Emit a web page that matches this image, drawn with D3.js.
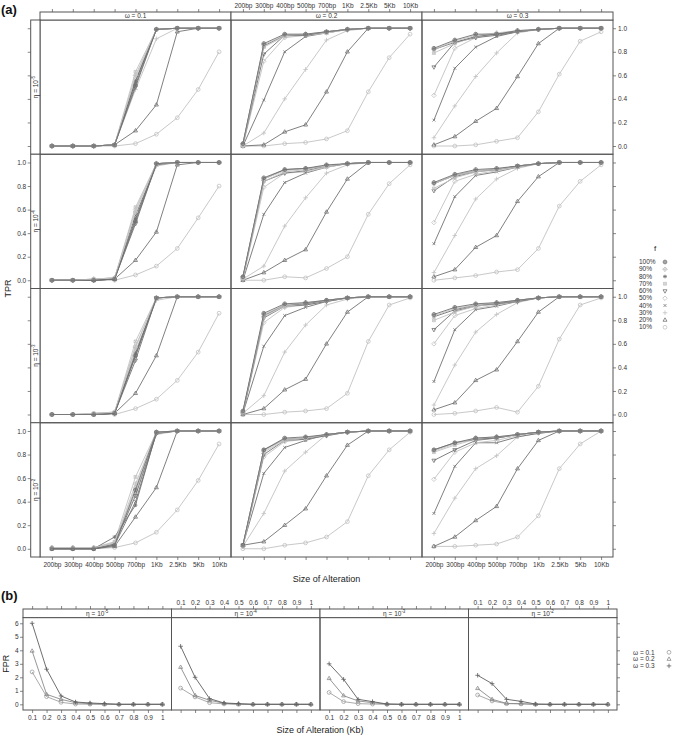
<!DOCTYPE html>
<html><head><meta charset="utf-8">
<script src="https://cdn.jsdelivr.net/npm/d3@7"></script>
<style>body{margin:0;background:#fff} svg{display:block;font-family:"Liberation Sans",Arial,Helvetica,sans-serif}</style>
</head><body><svg id="c" width="673" height="736"></svg>
<script>
// ---------------- DATA ----------------
const sizes = ["200bp","300bp","400bp","500bp","700bp","1Kb","2.5Kb","5Kb","10Kb"];
const fLevels = ["100%","90%","80%","70%","60%","50%","40%","30%","20%","10%"];
const omegaLevels = ["0.1","0.2","0.3"];
const etaExponentsA = ["-5","-4","-3","-2"];
const etaExponentsB = ["-5","-4","-3","-2"];
const tprTicks = [0,0.2,0.4,0.6,0.8,1.0];
const fprTicks = [0,1,2,3,4,5,6];
const kbSizes = [0.1,0.2,0.3,0.4,0.5,0.6,0.7,0.8,0.9,1];

// TPR, one array per panel; rows = f levels 100%..10%, columns = sizes
const tpr_e5_w1 = [
 [0,0,0,0.01,0.52,0.99,1,1,1],[0,0,0,0.01,0.60,0.99,1,1,1],[0,0,0,0.01,0.55,0.99,1,1,1],
 [0,0,0,0.01,0.63,0.99,1,1,1],[0,0,0,0.01,0.50,0.99,1,1,1],[0,0,0,0.01,0.58,0.99,1,1,1],
 [0,0,0,0.01,0.55,0.99,1,1,1],[0,0,0,0.01,0.48,0.91,1,1,1],[0,0,0,0.01,0.13,0.35,0.97,1,1],
 [0,0,0,0,0.02,0.10,0.24,0.48,0.80]];
const tpr_e5_w2 = [
 [0.02,0.87,0.95,0.95,0.97,0.99,1,1,1],[0.01,0.86,0.94,0.95,0.97,0.99,1,1,1],[0.02,0.85,0.94,0.94,0.97,0.99,1,1,1],
 [0.01,0.84,0.93,0.94,0.96,0.99,1,1,1],[0.01,0.78,0.94,0.94,0.97,0.99,1,1,1],[0,0.72,0.92,0.94,0.96,0.99,1,1,1],
 [0,0.39,0.80,0.93,0.96,0.99,1,1,1],[0,0.11,0.40,0.65,0.90,0.98,1,1,1],[0,0.01,0.12,0.18,0.46,0.80,1,1,1],
 [0,0,0.02,0.03,0.06,0.13,0.46,0.75,0.95]];
const tpr_e5_w3 = [
 [0.83,0.90,0.95,0.95,0.98,0.99,1,1,1],[0.82,0.89,0.94,0.96,0.98,0.99,1,1,1],[0.82,0.88,0.93,0.95,0.97,0.99,1,1,1],
 [0.79,0.87,0.93,0.95,0.97,0.99,1,1,1],[0.67,0.88,0.92,0.94,0.97,0.99,1,1,1],[0.43,0.83,0.92,0.95,0.97,0.99,1,1,1],
 [0.22,0.66,0.84,0.93,0.97,0.99,1,1,1],[0.07,0.34,0.59,0.79,0.96,0.99,1,1,1],[0.01,0.08,0.21,0.32,0.59,0.87,1,1,1],
 [0,0,0.01,0.04,0.07,0.29,0.61,0.89,0.97]];
const tpr_e4_w1 = [
 [0,0,0,0.01,0.50,0.99,1,1,1],[0,0,0.01,0.02,0.58,0.99,1,1,1],[0,0,0,0.01,0.52,0.99,1,1,1],
 [0,0,0.01,0.02,0.62,0.99,1,1,1],[0,0,0,0.01,0.48,0.99,1,1,1],[0,0,0.01,0.02,0.60,0.99,1,1,1],
 [0,0,0,0.01,0.55,0.98,1,1,1],[0,0,0.01,0.02,0.52,0.97,1,1,1],[0,0,0,0.01,0.17,0.41,0.98,1,1],
 [0,0,0,0,0.045,0.12,0.27,0.53,0.80]];
const tpr_e4_w2 = [
 [0.03,0.87,0.94,0.95,0.98,0.99,1,1,1],[0.02,0.86,0.93,0.95,0.97,0.99,1,1,1],[0.03,0.86,0.94,0.95,0.97,0.99,1,1,1],
 [0.02,0.84,0.92,0.94,0.97,0.99,1,1,1],[0.02,0.84,0.91,0.93,0.97,0.99,1,1,1],[0.01,0.79,0.91,0.92,0.96,0.99,1,1,1],
 [0,0.56,0.83,0.91,0.96,0.99,1,1,1],[0.01,0.12,0.46,0.70,0.91,0.98,1,1,1],[0,0.065,0.17,0.26,0.58,0.86,1,1,1],
 [0,0,0.03,0.02,0.10,0.20,0.56,0.82,0.98]];
const tpr_e4_w3 = [
 [0.83,0.90,0.94,0.95,0.97,0.99,1,1,1],[0.82,0.89,0.93,0.94,0.97,0.99,1,1,1],[0.82,0.89,0.93,0.94,0.97,0.99,1,1,1],
 [0.78,0.87,0.92,0.94,0.97,0.99,1,1,1],[0.76,0.88,0.92,0.94,0.97,0.99,1,1,1],[0.49,0.84,0.90,0.93,0.96,0.99,1,1,1],
 [0.31,0.71,0.89,0.92,0.96,0.99,1,1,1],[0.065,0.38,0.69,0.86,0.95,0.99,1,1,1],[0.03,0.09,0.28,0.38,0.67,0.88,1,1,1],
 [0,0.02,0.04,0.07,0.09,0.27,0.63,0.84,0.98]];
const tpr_e3_w1 = [
 [0,0,0,0.01,0.50,0.99,1,1,1],[0,0,0,0.02,0.57,0.99,1,1,1],[0,0,0,0.01,0.52,0.99,1,1,1],
 [0,0,0.01,0.02,0.62,0.99,1,1,1],[0,0,0,0.01,0.46,0.99,1,1,1],[0,0,0.01,0.02,0.58,0.99,1,1,1],
 [0,0,0,0.01,0.50,0.99,1,1,1],[0,0,0.01,0.02,0.54,0.97,1,1,1],[0,0,0,0.01,0.18,0.50,1,1,1],
 [0,0,0,0,0.05,0.13,0.29,0.53,0.86]];
const tpr_e3_w2 = [
 [0.03,0.86,0.94,0.95,0.97,0.99,1,1,1],[0.02,0.85,0.93,0.95,0.97,0.99,1,1,1],[0.02,0.84,0.93,0.94,0.97,0.99,1,1,1],
 [0.02,0.83,0.92,0.94,0.97,0.99,1,1,1],[0.01,0.82,0.92,0.93,0.96,0.99,1,1,1],[0.01,0.78,0.91,0.93,0.96,0.99,1,1,1],
 [0.01,0.58,0.84,0.91,0.96,0.99,1,1,1],[0.01,0.16,0.53,0.76,0.93,0.98,1,1,1],[0,0.05,0.21,0.30,0.60,0.87,1,1,1],
 [0,0,0.02,0.03,0.05,0.18,0.62,0.93,0.99]];
const tpr_e3_w3 = [
 [0.85,0.91,0.94,0.95,0.97,0.99,1,1,1],[0.84,0.90,0.93,0.95,0.97,0.99,1,1,1],[0.83,0.89,0.93,0.94,0.97,0.99,1,1,1],
 [0.80,0.87,0.92,0.94,0.97,0.99,1,1,1],[0.72,0.88,0.92,0.94,0.96,0.99,1,1,1],[0.60,0.84,0.90,0.93,0.96,0.99,1,1,1],
 [0.28,0.72,0.89,0.92,0.96,0.99,1,1,1],[0.08,0.42,0.70,0.85,0.95,0.99,1,1,1],[0.04,0.10,0.29,0.38,0.62,0.87,1,1,1],
 [0,0.01,0.03,0.06,0.02,0.24,0.64,0.93,0.99]];
const tpr_e2_w1 = [
 [0,0,0,0.03,0.50,0.99,1,1,1],[0.01,0.01,0.01,0.05,0.55,0.99,1,1,1],[0,0,0,0.10,0.37,0.99,1,1,1],
 [0.01,0.01,0.01,0.06,0.61,0.99,1,1,1],[0,0,0,0.04,0.45,0.98,1,1,1],[0.01,0.01,0.01,0.05,0.52,0.99,1,1,1],
 [0,0,0,0.03,0.40,0.98,1,1,1],[0.01,0.01,0.01,0.04,0.48,0.97,1,1,1],[0,0,0,0.02,0.27,0.52,1,1,1],
 [0,0,0,0.01,0.05,0.14,0.33,0.58,0.89]];
const tpr_e2_w2 = [
 [0.03,0.84,0.94,0.95,0.97,0.99,1,1,1],[0.02,0.83,0.93,0.94,0.97,0.99,1,1,1],[0.03,0.84,0.93,0.94,0.97,0.99,1,1,1],
 [0.02,0.82,0.92,0.94,0.97,0.99,1,1,1],[0.03,0.80,0.92,0.93,0.96,0.99,1,1,1],[0.02,0.78,0.91,0.93,0.96,0.99,1,1,1],
 [0.03,0.64,0.86,0.92,0.97,0.99,1,1,1],[0.02,0.30,0.66,0.82,0.97,0.99,1,1,1],[0.03,0.06,0.20,0.34,0.62,0.88,1,1,1],
 [0,0,0.03,0.05,0.10,0.23,0.62,0.84,0.99]];
const tpr_e2_w3 = [
 [0.84,0.90,0.94,0.95,0.97,0.99,1,1,1],[0.83,0.89,0.94,0.95,0.97,0.99,1,1,1],[0.84,0.90,0.93,0.94,0.97,0.99,1,1,1],
 [0.82,0.88,0.93,0.94,0.97,0.99,1,1,1],[0.75,0.84,0.92,0.94,0.97,0.99,1,1,1],[0.59,0.82,0.90,0.92,0.96,0.99,1,1,1],
 [0.30,0.70,0.90,0.90,0.95,0.98,1,1,1],[0.13,0.43,0.68,0.79,0.95,0.98,1,1,1],[0.02,0.10,0.24,0.36,0.68,0.92,1,1,1],
 [0.02,0.02,0.03,0.04,0.10,0.28,0.68,0.89,1.0]];

// FPR: per eta panel, rows = omega 0.1, 0.2, 0.3
const fpr_col1 = [
 [2.4,0.57,0.15,0.02,0.01,0,0,0,0,0],
 [3.95,0.74,0.37,0.12,0.05,0.02,0,0,0,0],
 [6.0,2.6,0.62,0.17,0.10,0.05,0,0,0,0]];
const fpr_col2 = [
 [1.2,0.55,0.12,0.03,0,0,0,0,0,0],
 [2.75,0.66,0.30,0.08,0.02,0,0,0,0,0],
 [4.3,2.0,0.42,0.10,0.05,0,0,0,0,0]];
const fpr_col3 = [
 [0.88,0.20,0.05,0.02,0,0,0,0,0,0],
 [1.92,0.64,0.25,0.12,0.02,0,0,0,0,0],
 [3.0,1.85,0.37,0.20,0.02,0,0,0,0,0]];
const fpr_col4 = [
 [0.69,0.25,0.05,0.03,0,0,0,0,0,0],
 [1.18,0.37,0.07,0.05,0,0,0,0,0,0],
 [2.15,1.53,0.37,0.22,0.02,0,0,0,0,0]];

const tprPanels = [[tpr_e5_w1,tpr_e5_w2,tpr_e5_w3],[tpr_e4_w1,tpr_e4_w2,tpr_e4_w3],
                   [tpr_e3_w1,tpr_e3_w2,tpr_e3_w3],[tpr_e2_w1,tpr_e2_w2,tpr_e2_w3]];
const fprPanels = [fpr_col1,fpr_col2,fpr_col3,fpr_col4];

// ---------------- STYLE ----------------
const fPch = [10,9,8,7,6,5,4,3,2,1];
const dark = "#727272", light = "#c2c2c2";
const fColor = fLevels.map((d,i)=> i%2===0 ? dark : light);
const wPch = [1,2,3];
const wColor = ["#a0a0a0","#8a8a8a","#5f5f5f"];
const frame = "#555";
const txt = "#333";
const tickFont = 6.5;

const svg = d3.select("#c");

function symbol(g, pch, cx, cy, color, r) {
  const s = g.append("g").attr("fill","none").attr("stroke",color).attr("stroke-width",0.8);
  const P = (d)=> s.append("path").attr("d",d);
  const k = r*0.75;
  switch(pch){
    case 1: s.append("circle").attr("cx",cx).attr("cy",cy).attr("r",r); break;
    case 2: P(`M${cx},${cy-r*1.15}L${cx+r*1.05},${cy+r*0.65}L${cx-r*1.05},${cy+r*0.65}Z`); break;
    case 3: P(`M${cx-r*1.2},${cy}H${cx+r*1.2}M${cx},${cy-r*1.2}V${cy+r*1.2}`); break;
    case 4: P(`M${cx-k},${cy-k}L${cx+k},${cy+k}M${cx-k},${cy+k}L${cx+k},${cy-k}`); break;
    case 5: P(`M${cx},${cy-r*1.2}L${cx+r*1.2},${cy}L${cx},${cy+r*1.2}L${cx-r*1.2},${cy}Z`); break;
    case 6: P(`M${cx},${cy+r*1.15}L${cx+r*1.05},${cy-r*0.65}L${cx-r*1.05},${cy-r*0.65}Z`); break;
    case 7: P(`M${cx-k},${cy-k}h${2*k}v${2*k}h${-2*k}ZM${cx-k},${cy-k}L${cx+k},${cy+k}M${cx-k},${cy+k}L${cx+k},${cy-k}`); break;
    case 8: P(`M${cx-r},${cy}H${cx+r}M${cx},${cy-r}V${cy+r}M${cx-k},${cy-k}L${cx+k},${cy+k}M${cx-k},${cy+k}L${cx+k},${cy-k}`); break;
    case 9: P(`M${cx},${cy-r*1.2}L${cx+r*1.2},${cy}L${cx},${cy+r*1.2}L${cx-r*1.2},${cy}ZM${cx-r*1.2},${cy}H${cx+r*1.2}M${cx},${cy-r*1.2}V${cy+r*1.2}`); break;
    case 10: s.append("circle").attr("cx",cx).attr("cy",cy).attr("r",r);
             P(`M${cx-r},${cy}H${cx+r}M${cx},${cy-r}V${cy+r}`); break;
  }
}

function styleAxis(sel){
  sel.select(".domain").remove();
  sel.selectAll(".tick line").attr("stroke",frame).attr("stroke-width",0.7);
  sel.selectAll(".tick text").attr("fill",txt).style("font-size",tickFont+"px").style("font-family","Liberation Sans, Arial, sans-serif");
}

function etaLabel(sel, exp){
  sel.append("tspan").text("\u03B7 = 10");
  sel.append("tspan").attr("dy",-2.3).style("font-size","4.5px").text(exp);
}

// ---------------- PANEL (a) ----------------
const A = {left:40, colW:191, top:20, rowH:134.25, stripH:8, leftStripW:9.3};
const nRow = 4, nCol = 3;
const aBottom = A.top + nRow*A.rowH;
const aRight = A.left + nCol*A.colW;

for (let r=0;r<nRow;r++){
  for (let c=0;c<nCol;c++){
    const x0 = A.left + c*A.colW, y0 = A.top + r*A.rowH;
    const x = d3.scaleLinear().domain([0.43,9.57]).range([x0,x0+A.colW]);
    const y = d3.scaleLinear().domain([-0.07,1.07]).range([y0+A.rowH,y0]);
    const g = svg.append("g");
    const data = tprPanels[r][c];
    const line = d3.line().x((d,i)=>x(i+1)).y(d=>y(d));
    for (let s=data.length-1;s>=0;s--){
      g.append("path").attr("d",line(data[s])).attr("fill","none")
        .attr("stroke",fColor[s]).attr("stroke-width",0.9);
      data[s].forEach((v,i)=> symbol(g,fPch[s],x(i+1),y(v),fColor[s],1.9));
    }
    g.append("rect").attr("x",x0).attr("y",y0).attr("width",A.colW).attr("height",A.rowH)
      .attr("fill","none").attr("stroke",frame).attr("stroke-width",1);

    // top strips and axes
    if (r===0){
      svg.append("rect").attr("x",x0).attr("y",A.top-A.stripH).attr("width",A.colW).attr("height",A.stripH)
        .attr("fill","#fff").attr("stroke",frame).attr("stroke-width",1);
      svg.append("text").attr("x",x0+A.colW/2).attr("y",A.top-A.stripH/2+2.2).attr("text-anchor","middle")
        .style("font-size","6.5px").attr("fill",txt).text("\u03C9 = "+omegaLevels[c]);
      const ax = svg.append("g").attr("transform",`translate(0,${A.top-A.stripH})`)
        .call(d3.axisTop(x).tickValues(d3.range(1,10)).tickSize(3).tickPadding(1.5)
          .tickFormat(c===1 ? (d=>sizes[d-1]) : ()=>""));
      styleAxis(ax);
    }
    if (r===nRow-1){
      const ax = svg.append("g").attr("transform",`translate(0,${aBottom})`)
        .call(d3.axisBottom(x).tickValues(d3.range(1,10)).tickSize(3).tickPadding(2)
          .tickFormat(c!==1 ? (d=>sizes[d-1]) : ()=>""));
      styleAxis(ax);
    }
    if (c===0){
      const sx = A.left - A.leftStripW;
      svg.append("rect").attr("x",sx).attr("y",y0).attr("width",A.leftStripW).attr("height",A.rowH)
        .attr("fill","#fff").attr("stroke",frame).attr("stroke-width",1);
      const t = svg.append("text").attr("transform",`translate(${sx+A.leftStripW/2+2.3},${y0+A.rowH/2}) rotate(-90)`)
        .attr("text-anchor","middle").style("font-size","6.5px").attr("fill",txt);
      etaLabel(t, etaExponentsA[r]);
      const ax = svg.append("g").attr("transform",`translate(${sx},0)`)
        .call(d3.axisLeft(y).tickValues(tprTicks).tickSize(3).tickPadding(1.5)
          .tickFormat(r%2===1 ? d3.format(".1f") : ()=>""));
      styleAxis(ax);
    }
    if (c===nCol-1){
      const ax = svg.append("g").attr("transform",`translate(${aRight},0)`)
        .call(d3.axisRight(y).tickValues(tprTicks).tickSize(3).tickPadding(2)
          .tickFormat(r%2===0 ? d3.format(".1f") : ()=>""));
      styleAxis(ax);
    }
  }
}

svg.append("text").attr("x",1).attr("y",14).style("font-size","13px").style("font-weight","bold").attr("fill","#111").text("(a)");
svg.append("text").attr("transform",`translate(11,${(A.top+aBottom)/2}) rotate(-90)`).attr("text-anchor","middle")
  .style("font-size","9px").attr("fill","#222").text("TPR");
svg.append("text").attr("x",(A.left+aRight)/2).attr("y",581.5).attr("text-anchor","middle")
  .style("font-size","9px").attr("fill","#222").text("Size of Alteration");

// legend (a)
svg.append("text").attr("x",655).attr("y",251).attr("text-anchor","middle").style("font-size","8px").attr("fill","#222").text("f");
fLevels.forEach((lv,i)=>{
  const yy = 262 + i*7.25;
  svg.append("text").attr("x",639).attr("y",yy+2.2).style("font-size","6.5px").attr("fill",txt).text(lv);
  symbol(svg, fPch[i], 665, yy, fColor[i], 1.9);
});

// ---------------- PANEL (b) ----------------
const B = {left:23, colW:148.5, top:617.6, bottom:710, stripH:8.6};
const yb = d3.scaleLinear().domain([-0.42,6.42]).range([B.bottom,B.top]);
fprPanels.forEach((pd,c)=>{
  const x0 = B.left + c*B.colW;
  const x = d3.scaleLinear().domain([0.037,1.063]).range([x0,x0+B.colW]);
  const g = svg.append("g");
  const line = d3.line().x((d,i)=>x(kbSizes[i])).y(d=>yb(d));
  pd.forEach((ser,s)=>{
    g.append("path").attr("d",line(ser)).attr("fill","none").attr("stroke",wColor[s]).attr("stroke-width",0.9);
    ser.forEach((v,i)=> symbol(g,wPch[s],x(kbSizes[i]),yb(v),wColor[s],1.9));
  });
  g.append("rect").attr("x",x0).attr("y",B.top).attr("width",B.colW).attr("height",B.bottom-B.top)
    .attr("fill","none").attr("stroke",frame).attr("stroke-width",1);
  // strip
  svg.append("rect").attr("x",x0).attr("y",B.top-B.stripH).attr("width",B.colW).attr("height",B.stripH)
    .attr("fill","#fff").attr("stroke",frame).attr("stroke-width",1);
  const t = svg.append("text").attr("x",x0+B.colW/2).attr("y",B.top-B.stripH/2+2.3).attr("text-anchor","middle")
    .style("font-size","6.5px").attr("fill",txt);
  etaLabel(t, etaExponentsB[c]);
  const fmt = d=> d===1 ? "1" : d3.format(".1f")(d);
  const axT = svg.append("g").attr("transform",`translate(0,${B.top-B.stripH})`)
    .call(d3.axisTop(x).tickValues(kbSizes).tickSize(3).tickPadding(1.5).tickFormat(c%2===1 ? fmt : ()=>""));
  styleAxis(axT);
  const axB = svg.append("g").attr("transform",`translate(0,${B.bottom})`)
    .call(d3.axisBottom(x).tickValues(kbSizes).tickSize(3).tickPadding(2).tickFormat(c%2===0 ? fmt : ()=>""));
  styleAxis(axB);
});
const bRight = B.left + 4*B.colW;
styleAxis(svg.append("g").attr("transform",`translate(${B.left},0)`)
  .call(d3.axisLeft(yb).tickValues(fprTicks).tickSize(3).tickPadding(1.5).tickFormat(d3.format("d"))));
styleAxis(svg.append("g").attr("transform",`translate(${bRight},0)`)
  .call(d3.axisRight(yb).tickValues(fprTicks).tickSize(3).tickFormat(()=>"")));

svg.append("text").attr("x",1).attr("y",600).style("font-size","13px").style("font-weight","bold").attr("fill","#111").text("(b)");
svg.append("text").attr("transform",`translate(9,${(B.top+B.bottom)/2}) rotate(-90)`).attr("text-anchor","middle")
  .style("font-size","9px").attr("fill","#222").text("FPR");
svg.append("text").attr("x",320).attr("y",733).attr("text-anchor","middle")
  .style("font-size","9px").attr("fill","#222").text("Size of Alteration (Kb)");

// legend (b)
omegaLevels.forEach((lv,i)=>{
  const yy = 652.3 + i*6.8;
  svg.append("text").attr("x",633).attr("y",yy+2.2).style("font-size","6.5px").attr("fill",txt).text("\u03C9 = "+lv);
  symbol(svg, wPch[i], 669, yy, wColor[i], 1.9);
});
</script></body></html>
